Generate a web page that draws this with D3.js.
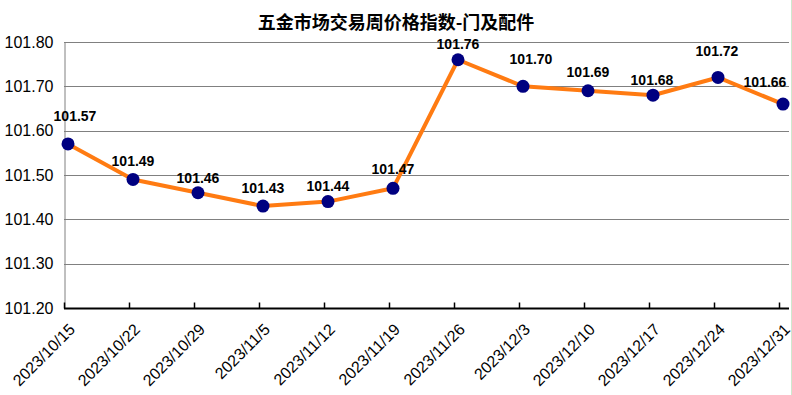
<!DOCTYPE html>
<html><head><meta charset="utf-8">
<script src="https://cdn.jsdelivr.net/npm/d3@7"></script>
<style>body{margin:0;background:#fff;} svg{display:block;}</style>
</head><body>
<svg id="c" width="792" height="395"></svg>
<script>
const title = "五金市场交易周价格指数-门及配件";
const categories = ["2023/10/15","2023/10/22","2023/10/29","2023/11/5","2023/11/12","2023/11/19","2023/11/26","2023/12/3","2023/12/10","2023/12/17","2023/12/24","2023/12/31"];
const values = [101.57,101.49,101.46,101.43,101.44,101.47,101.76,101.70,101.69,101.68,101.72,101.66];
const yTicks = [101.20,101.30,101.40,101.50,101.60,101.70,101.80];
// label placement nudges (layout only)
const labelDx = [7,0,0,0,0,0,0,8,0,-1,-1,-18];
const labelDy = [-28,-18,-15,-18,-16,-19,-16,-27,-19,-15,-26,-22];

(function(){
const svg = d3.select("#c");
const pLeft = 64, pRight = 789, pTop = 42, pBottom = 308;
const x = d3.scalePoint().domain(categories).range([68, 783]);
const y = d3.scaleLinear().domain([101.2, 101.8]).range([pBottom, pTop]);

// gridlines
svg.append("g").selectAll("line").data(yTicks.slice(1)).join("line")
  .attr("x1", pLeft).attr("x2", pRight)
  .attr("y1", d => Math.round(y(d)) + 0.5).attr("y2", d => Math.round(y(d)) + 0.5)
  .attr("stroke", "#808080").attr("stroke-width", 1);

// y axis
const yAxis = d3.axisLeft(y).tickValues(yTicks).tickFormat(d3.format(".2f")).tickSize(0).tickPadding(11);
const yg = svg.append("g").attr("transform", `translate(${pLeft + 0.5},0)`).call(yAxis);
yg.select(".domain").attr("stroke", "#808080");
yg.selectAll("text").attr("font-family", "Arial, 'Liberation Sans', sans-serif").attr("font-size", 16).attr("fill", "#000");

// x axis
const xg = svg.append("g").attr("transform", `translate(0,${pBottom + 0.5})`);
xg.append("line").attr("x1", pLeft).attr("x2", pRight).attr("stroke", "#000").attr("stroke-width", 2);
xg.selectAll("line.t").data(categories).join("line").attr("class", "t")
  .attr("x1", d => x(d) - 4 + 0.5).attr("x2", d => x(d) - 4 + 0.5)
  .attr("y1", 0).attr("y2", -6).attr("stroke", "#000").attr("stroke-width", 1.5);
xg.selectAll("text").data(categories).join("text")
  .attr("transform", d => `translate(${x(d) + 8},${22}) rotate(-45)`)
  .attr("text-anchor", "end")
  .attr("font-family", "Arial, 'Liberation Sans', sans-serif").attr("font-size", 16).attr("fill", "#000")
  .text(d => d);

// line
const line = d3.line().x((d, i) => x(categories[i])).y(d => y(d));
svg.append("path").datum(values).attr("d", line)
  .attr("fill", "none").attr("stroke", "#FF7B12").attr("stroke-width", 4).attr("stroke-linejoin", "round");

// markers
svg.append("g").selectAll("circle").data(values).join("circle")
  .attr("cx", (d, i) => x(categories[i])).attr("cy", d => y(d)).attr("r", 6.5)
  .attr("fill", "#000080");

// labels
svg.append("g").selectAll("text").data(values).join("text")
  .attr("x", (d, i) => x(categories[i]) + labelDx[i])
  .attr("y", (d, i) => y(d) + labelDy[i] + 5)
  .attr("text-anchor", "middle")
  .attr("font-family", "Arial, 'Liberation Sans', sans-serif").attr("font-weight", "bold").attr("font-size", 14).attr("fill", "#000")
  .text(d => d.toFixed(2));

// title
svg.append("text").attr("x", 396).attr("y", 29).attr("text-anchor", "middle")
  .attr("font-family", "'Noto Sans CJK SC', sans-serif").attr("font-weight", "bold").attr("font-size", 18).attr("fill", "#000")
  .text(title);

// right border
svg.append("line").attr("x1", 791.5).attr("x2", 791.5).attr("y1", 0).attr("y2", 395).attr("stroke", "#cfe8cf");
})();
</script>
</body></html>
